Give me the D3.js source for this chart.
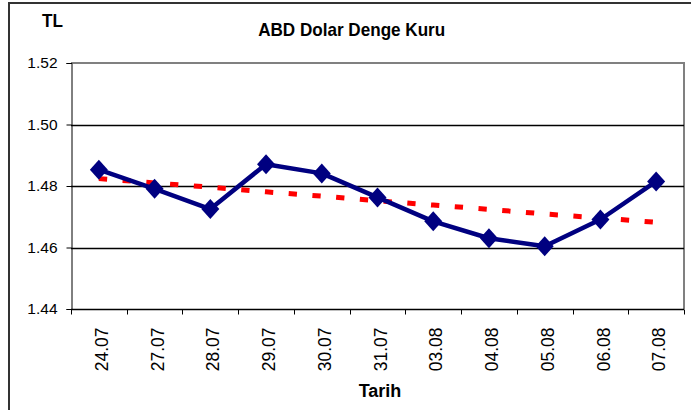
<!DOCTYPE html>
<html>
<head>
<meta charset="utf-8">
<script src="https://cdn.jsdelivr.net/npm/d3@7"></script>
<style>
  html, body { margin: 0; padding: 0; background: #fff; }
  svg { display: block; font-family: "Liberation Sans", Arial, sans-serif; }
</style>
</head>
<body>
<div id="vis"></div>
<script>
// data
const dates = ["24.07", "27.07", "28.07", "29.07", "30.07", "31.07", "03.08", "04.08", "05.08", "06.08", "07.08"];
const kur = [1.4853, 1.4791, 1.4725, 1.4871, 1.4841, 1.4763, 1.4685, 1.4630, 1.4604, 1.4691, 1.4815];
const trend = [1.4824, 1.4810, 1.4796, 1.4781, 1.4767, 1.4752, 1.4738, 1.4724, 1.4709, 1.4696, 1.4682];
const yTicks = [1.44, 1.46, 1.48, 1.50, 1.52];

const W = 691, H = 410;
const plot = { left: 71, right: 684, top: 63, bottom: 309 };

const svg = d3.select("#vis")
    .append("svg")
    .attr("width", W)
    .attr("height", H);

svg.append("rect")
    .attr("width", W).attr("height", H)
    .attr("fill", "#fff");

// outer chart frame (cropped on right / bottom)
svg.append("rect")
    .attr("x", 9).attr("y", 3)
    .attr("width", 720).attr("height", 440)
    .attr("fill", "none")
    .attr("stroke", "#333")
    .attr("stroke-width", 2);

const x = d3.scaleBand()
    .domain(dates)
    .range([plot.left, plot.right])
    .padding(0);

const y = d3.scaleLinear()
    .domain([1.44, 1.52])
    .range([plot.bottom, plot.top]);

const cx = d => x(d) + x.bandwidth() / 2;

// plot area border (top + right, grey)
svg.append("path")
    .attr("d", `M${plot.left},${plot.top}H${plot.right}V${plot.bottom}`)
    .attr("fill", "none")
    .attr("stroke", "#808080")
    .attr("stroke-width", 2);

// gridlines
svg.append("g")
    .selectAll("line")
    .data(yTicks.slice(1, -1))
    .enter()
    .append("line")
    .attr("x1", plot.left).attr("x2", plot.right)
    .attr("y1", d => Math.round(y(d)) + 0.5).attr("y2", d => Math.round(y(d)) + 0.5)
    .attr("stroke", "#000")
    .attr("stroke-width", 1.3);

// y axis
const yAxis = svg.append("g")
    .attr("transform", "translate(" + (plot.left + 0.5) + ",0)")
    .call(d3.axisLeft(y).tickValues(yTicks).tickFormat(d3.format(".2f")).tickSize(5).tickPadding(9));
yAxis.select(".domain").attr("stroke", "#000");
yAxis.selectAll(".tick line").attr("stroke", "#000");
yAxis.selectAll("text")
    .attr("font-family", "Liberation Sans, Arial, sans-serif")
    .attr("font-size", 15.5)
    .attr("fill", "#000");

// x axis: ticks at category boundaries
const xAxis = svg.append("g")
    .attr("transform", "translate(0," + (plot.bottom + 0.5) + ")");
xAxis.append("line")
    .attr("x1", plot.left).attr("x2", plot.right)
    .attr("stroke", "#000")
    .attr("stroke-width", 1.3);
xAxis.selectAll(".tk")
    .data(dates.concat(["end"]))
    .enter()
    .append("line")
    .attr("x1", (d, i) => (i < dates.length ? Math.round(x(d)) : plot.right) + 0.5)
    .attr("x2", (d, i) => (i < dates.length ? Math.round(x(d)) : plot.right) + 0.5)
    .attr("y1", 0).attr("y2", 5)
    .attr("stroke", "#000");
xAxis.selectAll(".lbl")
    .data(dates)
    .enter()
    .append("text")
    .attr("transform", d => "translate(" + (cx(d) + 3) + ",18) rotate(-90)")
    .attr("dy", "0.35em")
    .attr("text-anchor", "end")
    .attr("font-size", 17.5)
    .attr("fill", "#000")
    .text(d => d);

// trend line (red dashes)
svg.append("path")
    .datum(trend)
    .attr("fill", "none")
    .attr("stroke", "#ff0000")
    .attr("stroke-width", 5)
    .attr("stroke-dasharray", "8.3,15.5")
    .attr("d", d3.line()
        .x((d, i) => cx(dates[i]))
        .y(d => y(d)));

// main series
svg.append("path")
    .datum(kur)
    .attr("fill", "none")
    .attr("stroke", "#000080")
    .attr("stroke-width", 4.5)
    .attr("stroke-linejoin", "round")
    .attr("d", d3.line()
        .x((d, i) => cx(dates[i]))
        .y(d => y(d)));

const diamond = {
    draw: function (ctx, size) {
        const w = 9, h = 10;
        ctx.moveTo(0, -h);
        ctx.lineTo(w, 0);
        ctx.lineTo(0, h);
        ctx.lineTo(-w, 0);
        ctx.closePath();
    }
};

svg.selectAll(".mk")
    .data(kur)
    .enter()
    .append("path")
    .attr("transform", (d, i) => "translate(" + cx(dates[i]) + "," + y(d) + ")")
    .attr("d", d3.symbol().type(diamond))
    .attr("fill", "#000080");

// texts
svg.append("text")
    .attr("x", 351.7).attr("y", 36)
    .attr("text-anchor", "middle")
    .attr("font-weight", "bold")
    .attr("font-size", 19)
    .attr("textLength", 187)
    .attr("lengthAdjust", "spacingAndGlyphs")
    .text("ABD Dolar Denge Kuru");

svg.append("text")
    .attr("x", 42).attr("y", 27)
    .attr("font-weight", "bold")
    .attr("font-size", 18)
    .attr("textLength", 21)
    .attr("lengthAdjust", "spacingAndGlyphs")
    .text("TL");

svg.append("text")
    .attr("x", 380).attr("y", 397)
    .attr("text-anchor", "middle")
    .attr("font-weight", "bold")
    .attr("font-size", 18)
    .text("Tarih");
</script>
</body>
</html>
